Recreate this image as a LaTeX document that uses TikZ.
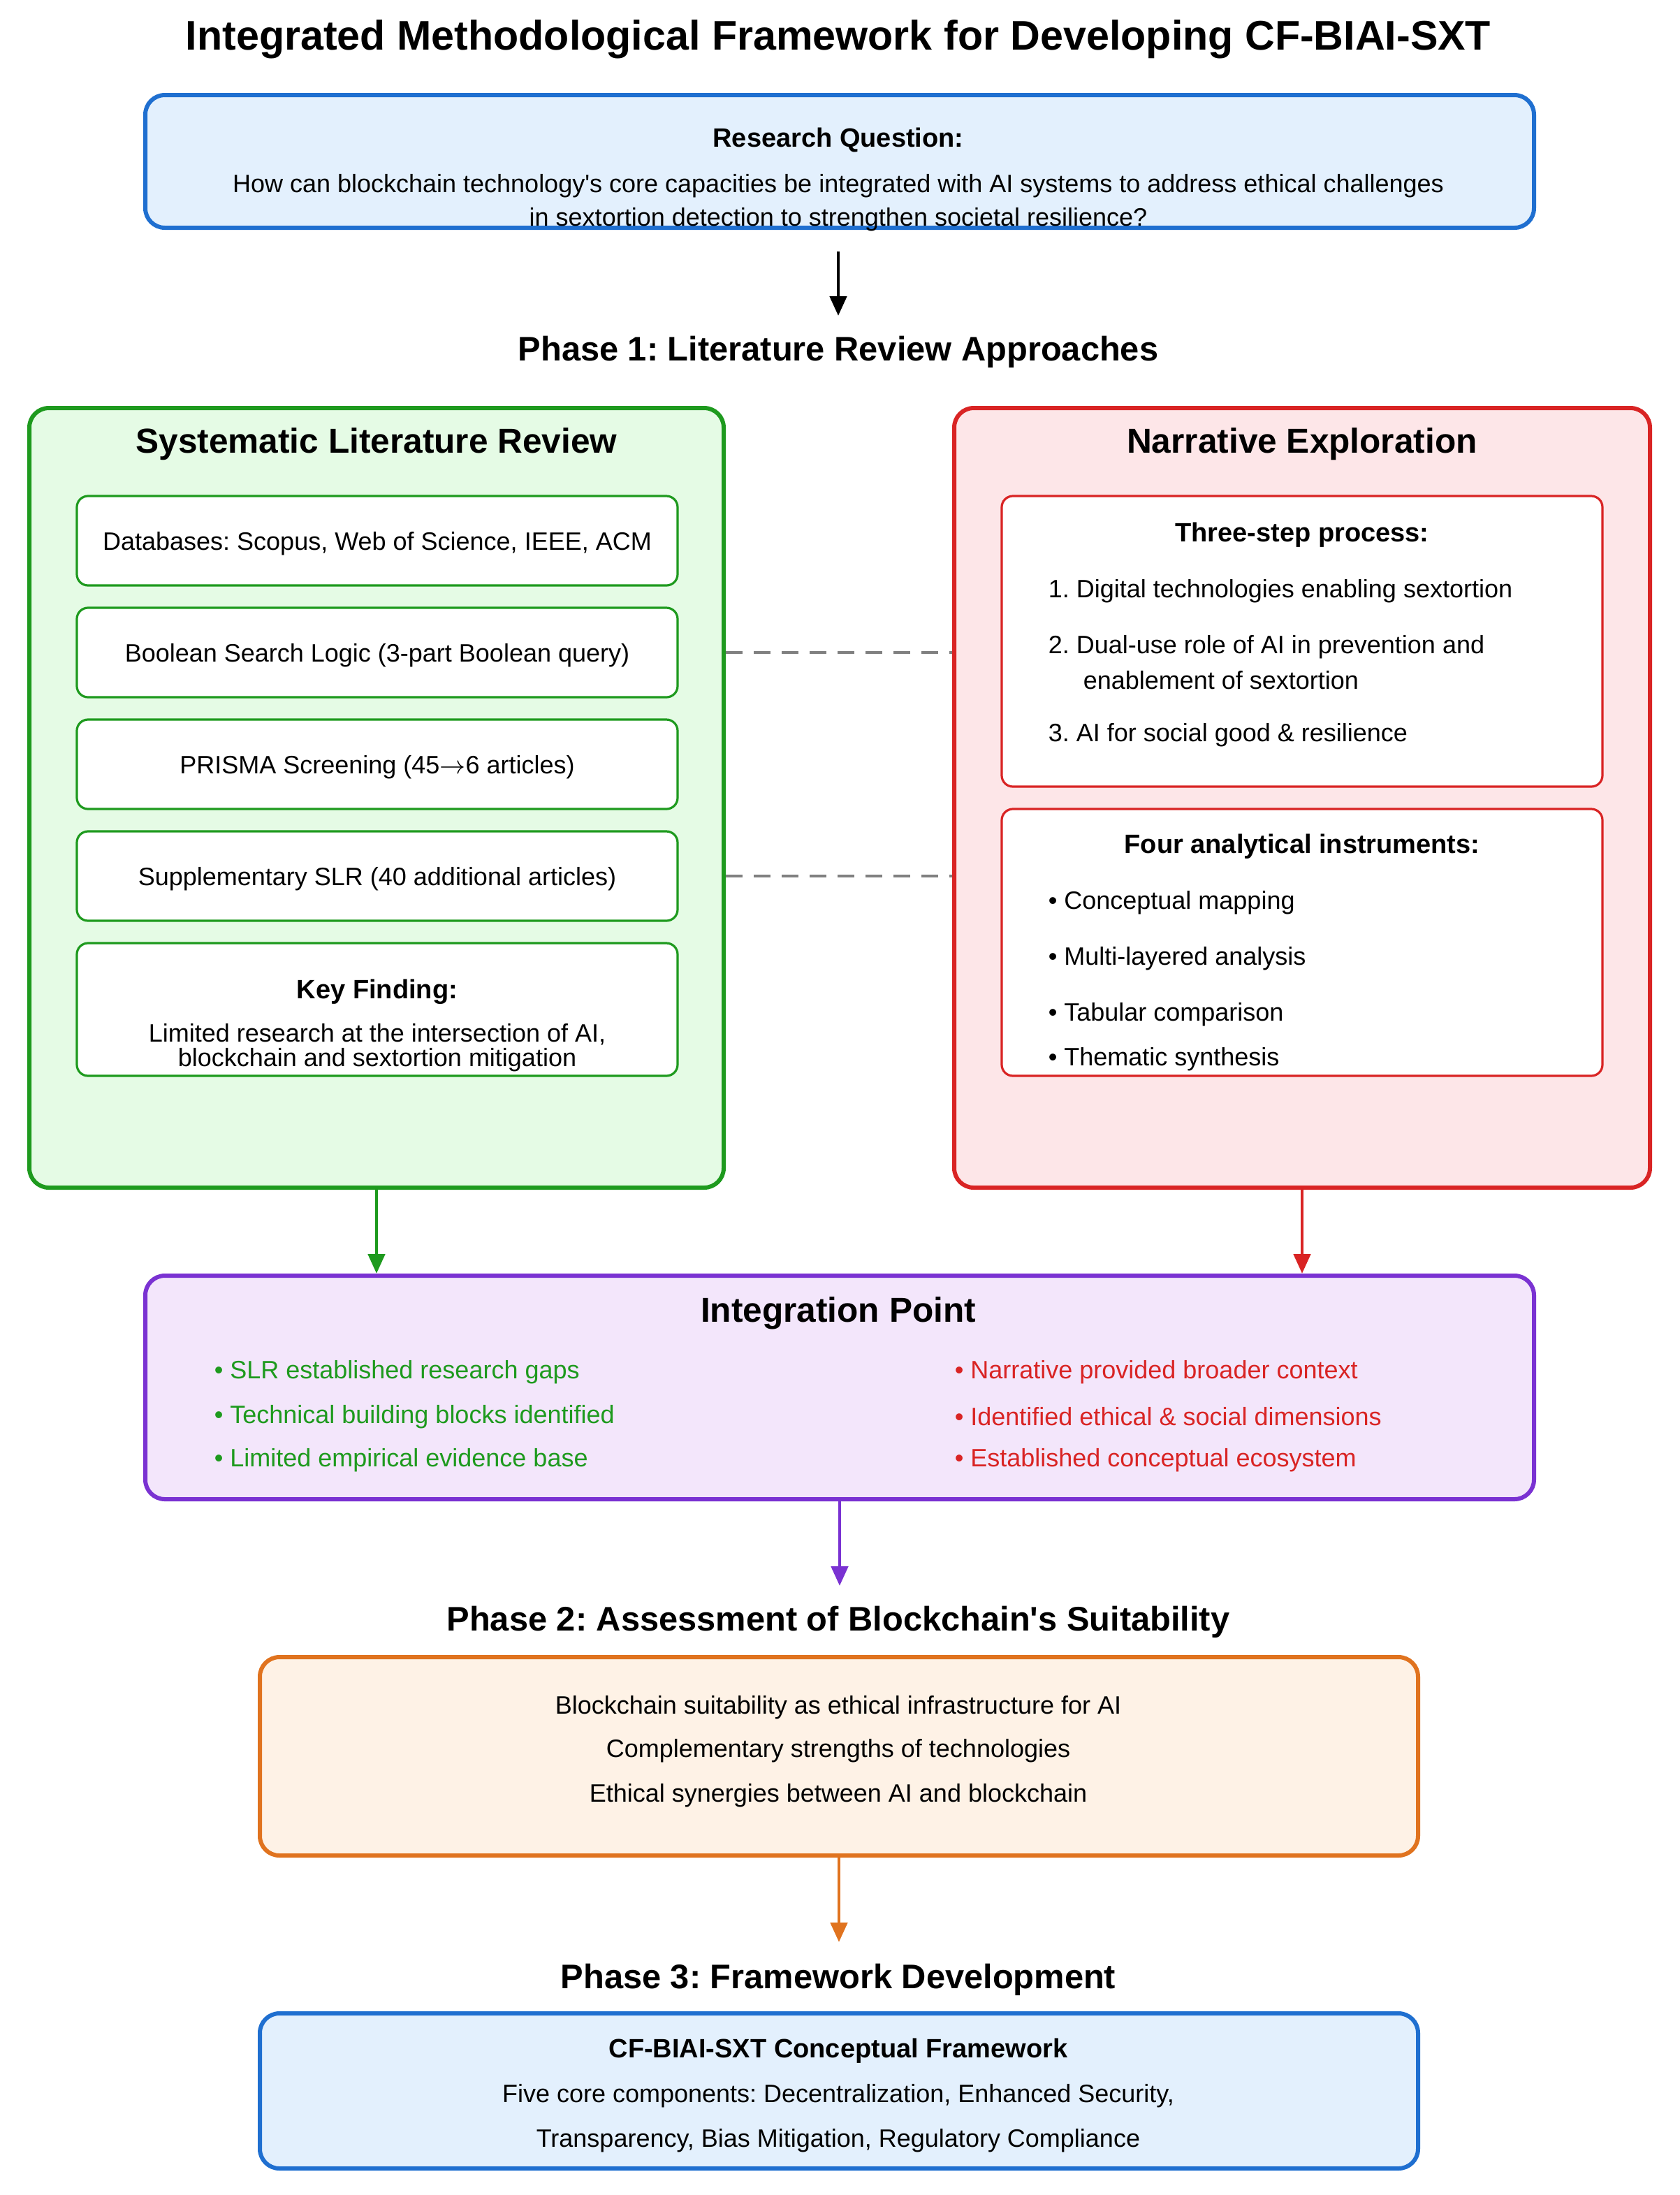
\documentclass[tikz,border=0pt]{standalone}
\usepackage{fontspec}
\setmainfont{Liberation Sans}
\usetikzlibrary{arrows.meta}
\frenchspacing
\newcommand\myq{\textquotesingle}
\definecolor{bbl}{HTML}{1F6FD0}\definecolor{fbl}{HTML}{E3F0FD}
\definecolor{bgr}{HTML}{1E9A1E}\definecolor{fgr}{HTML}{E5FBE5}
\definecolor{bre}{HTML}{D92424}\definecolor{fre}{HTML}{FDE6E8}
\definecolor{bpu}{HTML}{7A32D2}\definecolor{fpu}{HTML}{F3E6FB}
\definecolor{bor}{HTML}{E0731F}\definecolor{for}{HTML}{FEF2E6}
\tikzset{
 outer/.style={draw, line width=1.5pt, rounded corners=7pt, inner sep=0pt},
 inner/.style={draw, line width=0.8pt, rounded corners=4pt, fill=white, inner sep=0pt},
 t/.style={font=\fontsize{9}{11}\selectfont, inner sep=0pt},
 tb/.style={font=\bfseries\fontsize{9.5}{11}\selectfont, inner sep=0pt},
 hd/.style={font=\bfseries\fontsize{12.4}{14}\selectfont, inner sep=0pt},
 ph/.style={font=\bfseries\fontsize{12.2}{14}\selectfont, inner sep=0pt},
 arr/.style={line width=1.2pt, -{Triangle[length=7pt,width=6pt]}},
}
\begin{document}
\begin{tikzpicture}[x=0.5pt,y=-0.5pt]
\useasboundingbox (0,0) rectangle (1202.5,1571);
\node[font=\bfseries\fontsize{14.8}{16}\selectfont] (title) at (600,28) {Integrated Methodological Framework for Developing CF-BIAI-SXT};
% RQ
\node[outer, draw=bbl, fill=fbl, minimum width=497pt, minimum height=47.5pt] (rq) at (601,115.5) {};
\node[tb] (rqh) at (600,100) {Research Question:};
\node[t] (rq1) at (600,133) {How can blockchain technology\myq s core capacities be integrated with AI systems to address ethical challenges};
\node[t] (rq2) at (600,157) {in sextortion detection to strengthen societal resilience?};
\coordinate (a1s) at (600,180);
\node[ph] (p1) at (600,252) {Phase 1: Literature Review Approaches};
\coordinate (a1e) at (600,226);
\draw[arr, black] (a1s) -- (a1e);
% SLR
\node[outer, draw=bgr, fill=fgr, minimum width=248.5pt, minimum height=279pt] (slr) at (269.5,571) {};
\node[hd] (slrh) at (269.5,318) {Systematic Literature Review};
\foreach \n/\y/\txt in {s1/387/{Databases: Scopus, Web of Science, IEEE, ACM},
  s2/467/{Boolean Search Logic (3-part Boolean query)},
  s3/547/{PRISMA Screening (45$\rightarrow$6 articles)},
  s4/627/{Supplementary SLR (40 additional articles)}}{
  \node[inner, draw=bgr, minimum width=215pt, minimum height=32pt] (\n) at (270,\y) {};
  \node[t] at (270,\y+2) {\txt};
}
\node[inner, draw=bgr, minimum width=215pt, minimum height=47.5pt] (s5) at (270,722.5) {};
\node[tb] (kf) at (270,710) {Key Finding:};
\node[t, align=center, font=\fontsize{9}{7.5}\selectfont] (kft) at (270,750) {Limited research at the intersection of AI,\\blockchain and sextortion mitigation};
% Narrative
\node[outer, draw=bre, fill=fre, minimum width=249pt, minimum height=279pt] (nar) at (932,571) {};
\node[hd] (narh) at (932,318) {Narrative Exploration};
\node[inner, draw=bre, minimum width=215pt, minimum height=104pt] (n1) at (932,459) {};
\node[tb] (n1h) at (932,383) {Three-step process:};
\node[t, anchor=west] at (750,423) {1. Digital technologies enabling sextortion};
\node[t, anchor=west] at (750,463) {2. Dual-use role of AI in prevention and};
\node[t, anchor=west] at (775,487) {enablement of sextortion};
\node[t, anchor=west] at (750,526) {3. AI for social good \& resilience};
\node[inner, draw=bre, minimum width=215pt, minimum height=95.5pt] (n2) at (932,674.5) {};
\node[tb] (n2h) at (932,606) {Four analytical instruments:};
\foreach \y/\txt in {646/Conceptual mapping,686/Multi-layered analysis,726/Tabular comparison,758/Thematic synthesis}
  \node[t, anchor=west] at (750,\y) {\textbullet\ \txt};
\draw[gray, line width=0.9pt, dash pattern=on 6pt off 4pt] (slr.east |- s2) -- (nar.west |- s2);
\draw[gray, line width=0.9pt, dash pattern=on 6pt off 4pt] (slr.east |- s4) -- (nar.west |- s4);
% Integration
\node[outer, draw=bpu, fill=fpu, minimum width=497pt, minimum height=80pt] (int) at (601,993) {};
\node[hd] (inth) at (600,940) {Integration Point};
\foreach \y/\a/\b in {982/SLR established research gaps/Narrative provided broader context,
  1014/Technical building blocks identified/Identified ethical \& social dimensions,
  1045/Limited empirical evidence base/Established conceptual ecosystem}{
  \node[t, anchor=west, text=bgr] at (153,\y) {\textbullet\ \a};
  \node[t, anchor=west, text=bre] at (683,\y) {\textbullet\ \b};
}
\draw[arr, bgr] (slr.south) -- (slr.south |- int.north);
\draw[arr, bre] (nar.south) -- (nar.south |- int.north);
% Phase 2
\node[ph] (p2) at (600,1161) {Phase 2: Assessment of Blockchain\myq s Suitability};
\coordinate (a3e) at (600,1135);
\draw[arr, bpu] (int.south) -- (int.south |- a3e);
\node[outer, draw=bor, fill=for, minimum width=414.5pt, minimum height=71pt] (ph2) at (600.5,1257) {};
\node[t] at (600,1222) {Blockchain suitability as ethical infrastructure for AI};
\node[t] at (600,1253) {Complementary strengths of technologies};
\node[t] at (600,1285) {Ethical synergies between AI and blockchain};
\coordinate (a4e) at (600,1390);
\draw[arr, bor] (ph2.south) -- (ph2.south |- a4e);
% Phase 3
\node[ph] (p3) at (600,1417) {Phase 3: Framework Development};
\node[outer, draw=bbl, fill=fbl, minimum width=414.5pt, minimum height=55.5pt] (ph3) at (600.5,1496.5) {};
\node[tb] at (600,1468) {CF-BIAI-SXT Conceptual Framework};
\node[t] at (600,1500) {Five core components: Decentralization, Enhanced Security,};
\node[t] at (600,1532) {Transparency, Bias Mitigation, Regulatory Compliance};
\end{tikzpicture}
\end{document}
